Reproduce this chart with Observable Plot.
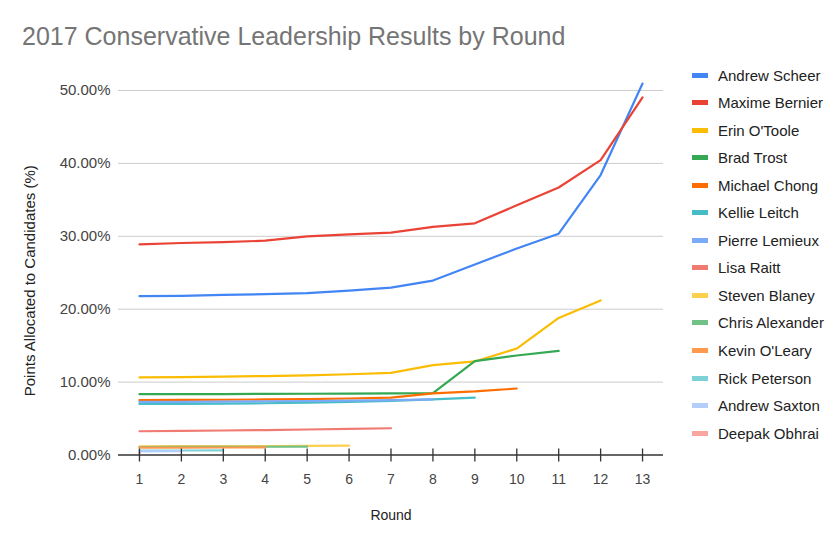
<!DOCTYPE html>
<html>
<head>
<meta charset="utf-8">
<script src="https://cdn.jsdelivr.net/npm/d3@7"></script>
<script src="https://cdn.jsdelivr.net/npm/@observablehq/plot@0.6"></script>
<style>
  body { margin: 0; background: #fff; }
  #wrap { position: relative; width: 840px; height: 542px; font-family: "Liberation Sans", Arial, sans-serif; }
  #title { position: absolute; left: 22px; top: 24px; font-size: 25px; line-height: 25px; color: #757575; white-space: nowrap; }
  .leg { position: absolute; left: 692px; height: 15px; }
  .sw { position: absolute; left: 0; top: 5px; width: 16px; height: 5px; }
  .lt { position: absolute; left: 26px; top: 0; font-size: 15px; line-height: 15px; color: #222; white-space: nowrap; }
  #chart { position: absolute; left: 0; top: 0; }
</style>
</head>
<body>
<div id="wrap">
  <div id="chart"></div>
  <div id="title">2017 Conservative Leadership Results by Round</div>
  <div id="legend"></div>
</div>
<script>
const rounds = [1, 2, 3, 4, 5, 6, 7, 8, 9, 10, 11, 12, 13];
const yTicks = [0, 10, 20, 30, 40, 50];

const candidates = ["Andrew Scheer", "Maxime Bernier", "Erin O'Toole", "Brad Trost", "Michael Chong",
  "Kellie Leitch", "Pierre Lemieux", "Lisa Raitt", "Steven Blaney", "Chris Alexander",
  "Kevin O'Leary", "Rick Peterson", "Andrew Saxton", "Deepak Obhrai"];
const colors = ["#4285F4", "#EA4335", "#FBBC04", "#34A853", "#FF6D01", "#46BDC6", "#7BAAF7",
  "#F07B72", "#FCD04F", "#71C287", "#FF994D", "#7ED1D7", "#B3CEFB", "#F7A7A0"];

const scheer = [21.79, 21.83, 21.97, 22.06, 22.2, 22.56, 22.97, 23.93, 26.13, 28.33, 30.36, 38.4, 50.95];
const bernier = [28.9, 29.08, 29.2, 29.4, 30.0, 30.26, 30.5, 31.3, 31.78, 34.25, 36.7, 40.45, 49.05];
const otoole = [10.65, 10.68, 10.74, 10.83, 10.92, 11.08, 11.26, 12.32, 12.83, 14.6, 18.8, 21.2];
const trost = [8.34, 8.35, 8.36, 8.38, 8.4, 8.42, 8.45, 8.5, 12.87, 13.65, 14.29];
const chong = [7.52, 7.55, 7.58, 7.62, 7.67, 7.75, 7.88, 8.45, 8.72, 9.12];
const leitch = [7.0, 7.02, 7.05, 7.1, 7.18, 7.28, 7.42, 7.62, 7.88];
const lemieux = [7.28, 7.3, 7.33, 7.37, 7.41, 7.46, 7.52, 7.62];
const raitt = [3.26, 3.3, 3.36, 3.42, 3.5, 3.58, 3.67];
const blaney = [1.2, 1.21, 1.22, 1.23, 1.25, 1.28];
const alexander = [1.1, 1.11, 1.12, 1.13, 1.14];
const oleary = [1.0, 1.02, 1.03, 1.04];
const peterson = [0.6, 0.62, 0.63];
const saxton = [0.5, 0.52];
const obhrai = [0.3];

const series = [scheer, bernier, otoole, trost, chong, leitch, lemieux, raitt, blaney, alexander, oleary, peterson, saxton, obhrai];

const data = candidates.flatMap((name, i) => series[i].map((v, j) => ({name, round: rounds[j], value: v})));
const singles = data.filter(d => series[candidates.indexOf(d.name)].length === 1);

const chart = Plot.plot({
  width: 840,
  height: 542,
  marginLeft: 118,
  marginRight: 177,
  marginTop: 90,
  marginBottom: 87.5,
  x: {domain: [0.5, 13.5], axis: null},
  y: {domain: [0, 50], axis: null},
  color: {domain: candidates, range: colors},
  style: {fontFamily: "'Liberation Sans', Arial, sans-serif", fontSize: "14px", background: "transparent", overflow: "visible"},
  marks: [
    Plot.gridY(yTicks.slice(1), {stroke: "#cccccc", strokeOpacity: 1}),
    Plot.axisY(yTicks, {tickSize: 0, tickPadding: 8, tickFormat: d => d.toFixed(2) + "%", fill: "#444", fontSize: 15, label: null, style: "letter-spacing: 1.2px"}),
    Plot.axisX(rounds, {tickSize: 0, tickPadding: 19, tickFormat: d => String(d), fill: "#444", label: null}),
    Plot.line(data, {x: "round", y: "value", z: "name", stroke: "name", strokeWidth: 2.2}),
    Plot.dot(singles, {x: "round", y: "value", fill: "name", r: 1.2}),
    Plot.ruleY([0], {stroke: "#333", strokeWidth: 1.3}),
    Plot.ruleX(rounds, {x: d => d, y1: 0, y2: 0, insetTop: -6, insetBottom: -7, stroke: "#333", strokeWidth: 1.3}),
    Plot.text(["Round"], {frameAnchor: "bottom", dy: 65, fill: "#222", fontSize: 14}),
    Plot.text(["Points Allocated to Candidates (%)"], {frameAnchor: "left", textAnchor: "middle", rotate: -90, dx: -88, dy: 8, fill: "#222", fontSize: 15})
  ]
});
document.getElementById("chart").appendChild(chart);

const legend = document.getElementById("legend");
candidates.forEach((name, i) => {
  const c = 75 + i * 27.55;
  const row = document.createElement("div");
  row.className = "leg";
  row.style.top = (c - 7.5) + "px";
  const sw = document.createElement("div");
  sw.className = "sw";
  sw.style.background = colors[i];
  const lt = document.createElement("div");
  lt.className = "lt";
  lt.textContent = name;
  row.appendChild(sw);
  row.appendChild(lt);
  legend.appendChild(row);
});
</script>
</body>
</html>
